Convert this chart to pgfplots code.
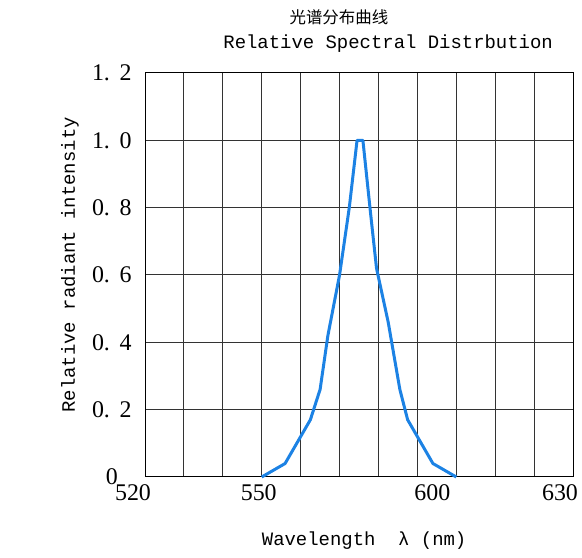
\documentclass[border=0pt]{standalone}
\usepackage{pgfplots}
\pgfplotsset{compat=1.18}
\usepackage{fontspec}
\setmainfont{Liberation Serif}
\newfontfamily\mono{Liberation Mono}
\newfontfamily\cjk{Noto Sans CJK SC}
\definecolor{specblue}{RGB}{28,130,228}

\begin{document}
\begin{tikzpicture}[x=1bp,y=1bp]
\useasboundingbox (0,0) rectangle (582,558);
\begin{axis}[
    at={(145bp,81bp)}, anchor=south west,
    width=428bp, height=404bp, scale only axis,
    xmin=520, xmax=630, ymin=0, ymax=1.2,
    xtick={520,530,...,630},
    % label positions in the reference sit a little left of their grid lines
    xticklabels={\hspace*{-24bp}520,,,\hspace*{-6bp}550,,,,,\hspace*{-48bp}600,,,\hspace*{-26bp}630},
    ytick={0,0.2,...,1.2},
    yticklabels={\makebox[1.65em][c]{0}, 0.\hspace{0.4em}2, 0.\hspace{0.4em}4, 0.\hspace{0.4em}6, 0.\hspace{0.4em}8, 1.\hspace{0.4em}0, 1.\hspace{0.4em}2},
    major tick length=0pt,
    grid=major,
    major grid style={line width=1bp, black!80},
    axis line style={line width=1bp, black},
    tick label style={font=\fontsize{24}{26}\selectfont},
    yticklabel style={xshift=-10bp},
    xticklabel style={yshift=-4bp},
    xlabel={\mono\fontsize{19}{22}\selectfont Wavelength~~λ~(nm)},
    xlabel style={at={(axis description cs:0.512,-0.158)}, anchor=center},
    ylabel={\mono\fontsize{19}{22}\selectfont Relative radiant intensity},
    ylabel style={at={(axis description cs:-0.175,0.525)}, anchor=center},
    clip=false,
]
\addplot[specblue, line width=3bp, line join=round] coordinates {
    (550,0) (556,0.04) (562.5,0.17) (565,0.26) (567,0.42) (570,0.6)
    (572.5,0.8) (574.5,1.0) (576,1.0) (578,0.78) (579.5,0.62)
    (582.5,0.46) (585.5,0.26) (587.5,0.17) (594,0.04) (600,0)
};
\node[anchor=center, font=\cjk\fontsize{16.5}{19}\selectfont] at (axis description cs:0.453,1.139) {光谱分布曲线};
\node[anchor=center, font=\mono\fontsize{19}{22}\selectfont] at (axis description cs:0.568,1.072) {Relative Spectral Distrbution};
\end{axis}
\end{tikzpicture}
\end{document}
